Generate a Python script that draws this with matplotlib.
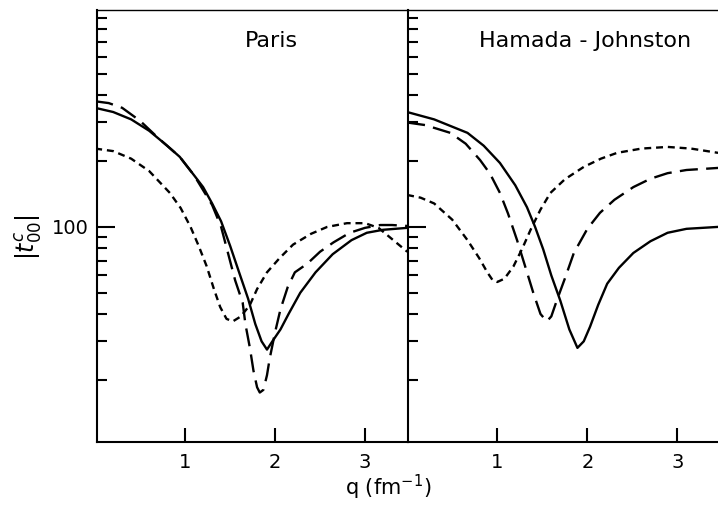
import matplotlib
matplotlib.use("Agg")
import matplotlib.pyplot as plt
from matplotlib.ticker import FixedLocator, NullFormatter

# values (q in fm^-1, |t^c_00| on log scale)
paris_solid_q = [0.0, 0.2, 0.4, 0.6, 0.8, 0.94, 1.1, 1.2, 1.3, 1.4, 1.5, 1.6, 1.7, 1.78, 1.85, 1.91,
                 1.97, 2.06, 2.15, 2.28, 2.45, 2.64, 2.85, 3.02, 3.2, 3.47]
paris_solid_t = [350, 335, 310, 275, 235, 209, 172, 152, 128, 106, 82, 62, 47, 36, 30, 27.5,
                 30, 34, 40, 50, 62, 75, 87, 94, 97, 99]

paris_long_q = [0.0, 0.15, 0.3, 0.5, 0.7, 0.94, 1.1, 1.3, 1.4, 1.48, 1.556, 1.64, 1.67, 1.72, 1.76, 1.8,
                1.83, 1.87, 1.91, 1.94, 2.0, 2.06, 2.14, 2.22, 2.36, 2.5, 2.65, 2.83, 3.0, 3.17, 3.3, 3.47]
paris_long_t = [375, 368, 350, 305, 255, 209, 172, 126, 100, 75, 57, 45, 36, 28, 22, 18.5,
                17.5, 18, 21, 25, 33, 42, 53, 62, 68, 77, 85, 94, 99, 102, 102, 101]

paris_short_q = [0.0, 0.2, 0.4, 0.6, 0.83, 0.95, 1.06, 1.15, 1.24, 1.32, 1.39, 1.46, 1.53, 1.62, 1.72,
                 1.8, 1.91, 2.05, 2.2, 2.4, 2.58, 2.8, 3.0, 3.15, 3.3, 3.47]
paris_short_t = [228, 222, 205, 180, 143, 122, 100, 82, 66, 52, 43, 38, 37, 39, 44,
                 52, 62, 72, 83, 93, 100, 104, 104, 99, 88, 77]

hj_solid_q = [0.0, 0.3, 0.67, 0.85, 1.03, 1.2, 1.33, 1.42, 1.51, 1.6, 1.7, 1.8, 1.89, 1.96, 2.03,
              2.12, 2.22, 2.35, 2.51, 2.7, 2.89, 3.1, 3.45]
hj_solid_t = [335, 310, 269, 235, 196, 155, 123, 100, 79, 60, 46, 34, 28, 30, 35,
              44, 55, 65, 76, 86, 94, 98, 100]

hj_long_q = [0.0, 0.2, 0.48, 0.65, 0.81, 0.92, 1.03, 1.12, 1.22, 1.31, 1.4, 1.48, 1.55, 1.6, 1.66,
             1.75, 1.85, 2.0, 2.14, 2.3, 2.51, 2.7, 2.89, 3.1, 3.45]
hj_long_t = [300, 292, 269, 240, 202, 175, 143, 115, 87, 66, 50, 40, 37, 39, 46,
             58, 76, 98, 116, 133, 152, 166, 176, 182, 186]

hj_short_q = [0.0, 0.15, 0.3, 0.5, 0.67, 0.8, 0.89, 0.95, 1.0, 1.08, 1.18, 1.28, 1.37, 1.48, 1.59,
              1.75, 1.96, 2.15, 2.33, 2.6, 2.89, 3.15, 3.45]
hj_short_t = [140, 136, 128, 108, 87, 72, 62, 57, 56, 58, 66, 80, 97, 120, 143,
              165, 188, 205, 218, 228, 232, 228, 218]

panel_names = ["Paris", "Hamada - Johnston"]
xtick_vals = [1, 2, 3]
ytick_major = [100]
ytick_minor = [20, 30, 40, 50, 60, 70, 80, 90, 200, 300, 400, 500, 600, 700, 800, 900]

plt.rcParams["font.family"] = ["DejaVu Sans"]
plt.rcParams["mathtext.fontset"] = "dejavusans"
plt.rcParams["lines.scale_dashes"] = False

fig = plt.figure(figsize=(7.18, 5.05), dpi=100)
ax1 = fig.add_axes([97 / 718, 63 / 505, 311 / 718, 432 / 505])
ax2 = fig.add_axes([408 / 718, 63 / 505, 310.5 / 718, 432 / 505])

lw = 1.7
long_dash = (0, (13, 6))
short_dash = (0, (5, 3.5))

ax1.plot(paris_solid_q, paris_solid_t, color="black", lw=lw)
ax1.plot(paris_long_q, paris_long_t, color="black", lw=lw, linestyle=long_dash)
ax1.plot(paris_short_q, paris_short_t, color="black", lw=lw, linestyle=short_dash)

ax2.plot(hj_solid_q, hj_solid_t, color="black", lw=lw)
ax2.plot(hj_long_q, hj_long_t, color="black", lw=lw, linestyle=long_dash)
ax2.plot(hj_short_q, hj_short_t, color="black", lw=lw, linestyle=short_dash)

for ax, name in zip([ax1, ax2], panel_names):
    ax.set_yscale("log")
    ax.set_ylim(10.4, 980)
    ax.yaxis.set_major_locator(FixedLocator(ytick_major))
    ax.yaxis.set_minor_locator(FixedLocator(ytick_minor))
    ax.yaxis.set_minor_formatter(NullFormatter())
    ax.set_xticks(xtick_vals)
    ax.set_xticklabels([str(v) for v in xtick_vals], fontsize=14)
    ax.tick_params(axis="x", direction="in", length=10, width=1.5, pad=8)
    ax.tick_params(axis="y", which="major", direction="in", length=13, width=1.5)
    ax.tick_params(axis="y", which="minor", direction="in", length=7, width=1.5)
    for s in ax.spines.values():
        s.set_linewidth(1.5)
    ax.text(0.56 if ax is ax1 else 0.57, 0.928, name, transform=ax.transAxes,
            ha="center", va="center", fontsize=16)

ax1.set_xlim(0.02, 3.478)
ax2.set_xlim(0.01, 3.455)
ax1.spines["right"].set_visible(False)
ax2.spines["right"].set_visible(False)
ax1.spines["top"].set_linewidth(1.0)
ax2.spines["top"].set_linewidth(1.0)
ax1.set_yticklabels(["100"], fontsize=14)
ax1.tick_params(axis="y", which="major", pad=6)
ax2.set_yticklabels([])

fig.text(28 / 718, 1 - 237 / 505, r"$|t^{c}_{00}|$", rotation=90,
         ha="center", va="center", fontsize=17)
fig.text(388 / 718, 1 - 487 / 505, r"q (fm$^{-1}$)", ha="center", va="center", fontsize=15)

fig.savefig("out.png", dpi=100)
